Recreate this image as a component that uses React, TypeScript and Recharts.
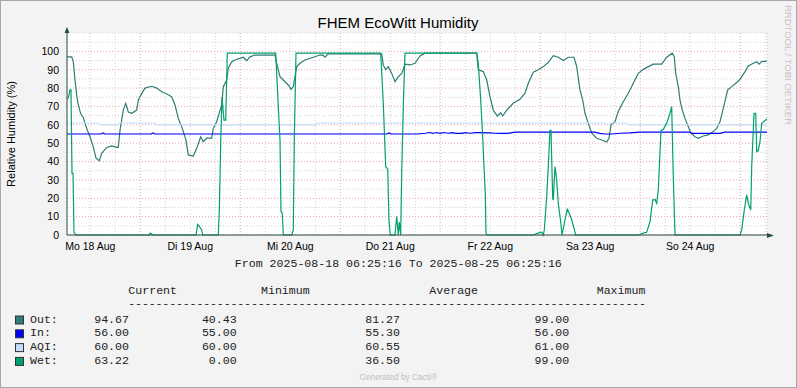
import React from 'react';
import { ComposedChart, Line, XAxis, YAxis, CartesianGrid } from 'recharts';

// x = hours since 2025-08-18 00:00, y = relative humidity (%)
const outSeries: [number, number][] = [
  [6.42, 97], [7.55, 97], [7.93, 94.4], [8.34, 84.4], [8.75, 76], [9.13, 70.8], [9.71, 66], [10.33, 64],
  [11.15, 58], [11.94, 53.5], [12.73, 48], [13.38, 41.8], [14.17, 40.4], [14.75, 44.5], [15.95, 47.7],
  [17.15, 48.5], [18.35, 47.7], [18.73, 47.7], [19.14, 57], [19.93, 68], [20.51, 71.7], [21.13, 67],
  [21.95, 66.3], [23.15, 68], [23.53, 73.5], [24.35, 77], [25.14, 80], [26.75, 81], [27.95, 80], [29.15, 78],
  [30.35, 76.8], [31.55, 75.3], [32.34, 70.8], [33.13, 63.5], [33.95, 59], [34.98, 51.7], [35.53, 43.6],
  [36.73, 43], [37.55, 47.2], [38.51, 53.5], [39.13, 50.8], [39.95, 52.7], [41.15, 52.7], [41.53, 58],
  [42.35, 61.7], [43.55, 70.8], [43.93, 80.8], [44.75, 84.4], [45.13, 90.8], [45.95, 94.4], [47.15, 95.7],
  [47.94, 96.2], [48.73, 96.8], [49.55, 95], [50.34, 97], [51.54, 98], [56.34, 98], [56.75, 93.5],
  [57.54, 86.2], [58.33, 84.4], [59.53, 81.7], [60.18, 79.4], [60.73, 80.8], [61.55, 91.7], [62.34, 93.5],
  [63.54, 95.3], [65.15, 96.5], [67.14, 98], [67.86, 98], [68.34, 96.8], [69.13, 98.6], [81.95, 98.6],
  [82.33, 92.6], [82.91, 90], [83.53, 91.7], [84.35, 88], [85.14, 83.5], [85.93, 86.2], [86.75, 88],
  [87.54, 93], [88.74, 92.6], [89.94, 93.5], [91.14, 97.5], [92.34, 99], [104.75, 99], [105.13, 90],
  [106.33, 89], [107.15, 84.4], [107.94, 75.3], [108.73, 68], [109.69, 64.8], [110.51, 66.6], [110.99, 64.8],
  [111.95, 68], [113.53, 71.7], [115.14, 73.9], [116.34, 77.2], [117.13, 82.6], [118.33, 88.6], [119.53, 90],
  [120.73, 91.7], [121.93, 93.9], [123.13, 97.7], [124.33, 96.8], [125.53, 95], [126.73, 96.8], [128.1, 96.8],
  [128.75, 91.7], [129.54, 79], [130.19, 73.5], [130.74, 66.3], [131.53, 60.8], [132.35, 55.4], [133.55, 52.7],
  [134.75, 51.7], [135.95, 50.6], [136.5, 52.7], [136.98, 60], [137.94, 61.7], [138.73, 67.2], [139.93, 72.6],
  [141.13, 77.2], [142.33, 82.6], [143.53, 88], [144.73, 90.2], [145.93, 91.7], [147.13, 93], [149.15, 93.1],
  [150.35, 96.8], [151.69, 99], [152.17, 97.1], [152.51, 88], [153.13, 80.8], [153.54, 73.5], [154.09, 68],
  [154.74, 63.5], [155.53, 59], [156.18, 55.4], [157.14, 53.5], [157.93, 52.7], [159.13, 53.9], [160.33, 54.5],
  [161.53, 56.3], [162.35, 58], [163.14, 61.7], [163.93, 69], [164.99, 79], [165.95, 80.8], [167.15, 83],
  [167.94, 84.8], [169.14, 89], [169.93, 92], [171.13, 93.5], [171.95, 94.4], [172.5, 93], [173.15, 94.4],
  [174.42, 94.67],
];

const inSeries: [number, number][] = [
  [6.42, 55], [14.6, 55], [15.06, 55.6], [15.5, 55], [26.6, 55], [27.06, 55.6], [27.5, 55], [83.2, 55],
  [83.7, 55.6], [84.2, 55], [90.5, 55], [92.3, 55.4], [93.5, 55.8], [94.3, 55.3], [95, 55.8], [96, 55.3],
  [96.9, 55.8], [97.9, 55.4], [98.8, 55.7], [99.8, 55.3], [101.2, 55.3], [102, 55.7], [103.1, 55.4],
  [104.3, 55.7], [105.5, 55.8], [107.9, 55.6], [109, 55.4], [110.3, 55.3], [112, 55.3], [113.9, 56],
  [133.1, 56], [134.3, 55.3], [135.5, 55], [137.2, 55], [139.1, 55.4], [141.5, 55.6], [143.9, 56],
  [155.9, 56], [156.4, 55.3], [163.1, 55.3], [164.3, 56], [174.42, 56],
];

const aqiSeries: [number, number][] = [
  [6.42, 61], [14.2, 61], [14.5, 60], [18.6, 60], [19, 61], [27.5, 61], [27.9, 60], [66, 60], [66.4, 61],
  [135.4, 61], [135.8, 60.3], [136.6, 60.3], [137, 61], [140.9, 61], [141.3, 60], [174.42, 60],
];

const wetSeries: [number, number][] = [
  [6.42, 74], [6.78, 75], [7.14, 79], [7.38, 79], [7.62, 33.6], [7.86, 33.6], [8.1, 1.3], [8.58, 0],
  [26.1, 0], [26.46, 1], [27.06, 0], [37.38, 0], [37.79, 5.8], [38.1, 5], [38.75, 2.7], [38.99, 0],
  [42.73, 0], [42.97, 12.7], [43.31, 50], [43.62, 75], [44.1, 62.6], [44.51, 62.6], [44.9, 99],
  [56.51, 99], [57.13, 70], [57.54, 51.7], [57.78, 12.7], [58.09, 12], [58.33, 0], [60.35, 0],
  [60.73, 2.7], [60.97, 51.7], [61.38, 99], [81.71, 99], [82.33, 71.7], [82.91, 37.2], [83.39, 36],
  [83.7, 7.3], [84.01, 0], [85.14, 0], [85.55, 10], [85.93, 0], [86.17, 7], [86.51, 0], [86.75, 33.6],
  [87.13, 69.9], [87.54, 99], [104.75, 99], [105.13, 93.5], [105.71, 73.5], [106.19, 53.5], [106.5, 37.2],
  [106.81, 22.7], [106.98, 1], [107.22, 0], [118.33, 0], [119.46, 1], [120.35, 1.5], [120.73, 0],
  [120.97, 2.7], [121.55, 20.9], [121.93, 37.2], [122.34, 57], [122.58, 57], [122.99, 20], [123.13, 19],
  [123.54, 37.2], [123.95, 30], [124.33, 17.3], [124.91, 7.3], [125.22, 0], [125.94, 8.2], [126.49, 14],
  [126.97, 11.8], [127.55, 8.2], [128.1, 3.6], [128.51, 0], [143.53, 0], [144.73, 1], [145.55, 1.5],
  [146.34, 7.3], [146.99, 19], [147.54, 19.3], [147.95, 17.3], [148.33, 24.5], [148.98, 57], [149.53, 57.5],
  [150.35, 60.8], [151.14, 66.3], [151.55, 69.9], [151.93, 31.8], [152.34, 0], [167.94, 0], [168.35, 2.7],
  [168.97, 13.6], [169.55, 21.8], [169.93, 17.3], [170.51, 13.6], [170.75, 37.2], [171.3, 66.3],
  [171.71, 66.3], [171.95, 45.4], [172.33, 46], [172.74, 50.8], [173.15, 60.8], [174.42, 63.22],
];

const dayLabels = ['Mo 18 Aug', 'Di 19 Aug', 'Mi 20 Aug', 'Do 21 Aug', 'Fr 22 Aug', 'Sa 23 Aug', 'So 24 Aug'];
const xTicks = [12, 18, 24, 30, 36, 42, 48, 54, 60, 66, 72, 78, 84, 90, 96, 102, 108, 114, 120, 126, 132,
  138, 144, 150, 156, 162, 168, 174];
const yTicks = [0, 5, 10, 15, 20, 25, 30, 35, 40, 45, 50, 55, 60, 65, 70, 75, 80, 85, 90, 95, 100, 105];

const legendNames = ['Out:', 'In:', 'AQI:', 'Wet:'];
const legendColors = ['#2E7D76', '#0000FF', '#C6DEF7', '#00A070'];
const currentVals = ['94.67', '56.00', '60.00', '63.22'];
const minimumVals = ['40.43', '55.00', '60.00', '0.00'];
const averageVals = ['81.27', '55.30', '60.55', '36.50'];
const maximumVals = ['99.00', '56.00', '61.00', '99.00'];

const START = 6 + 25 / 60 + 16 / 3600;
const END = START + 168;

const SANS = "'Liberation Sans', Arial, sans-serif";
const MONO = "'Liberation Mono', 'Courier New', monospace";
const AXIS = '#2C4D43';

const toPoints = (s: [number, number][]) => s.map(([h, v]) => ({ h, v }));

const XTick = (props: any) => {
  const { x, y, payload } = props;
  const v = payload.value;
  if ((v - 12) % 24 !== 0) return <g />;
  return (
    <text x={x} y={y} dy={8.5} textAnchor="middle" fontFamily={SANS} fontSize={10.5} fill="#000">
      {dayLabels[(v - 12) / 24]}
    </text>
  );
};

const YTick = (props: any) => {
  const { x, y, payload } = props;
  const v = payload.value;
  if (v % 10 !== 0) return <g />;
  return (
    <text x={x} y={y} dy={3.8} textAnchor="end" fontFamily={SANS} fontSize={10.5} fill="#000">
      {v}
    </text>
  );
};

const hGrid = (p: any) => {
  const v = yTicks[p.index];
  const major = v % 10 === 0;
  return (
    <line key={p.key} x1={p.x1} y1={p.y1} x2={p.x2} y2={p.y2}
      stroke={major ? '#E8A6A6' : '#D2D2D2'} strokeWidth={1} strokeDasharray="1 2" />
  );
};

const vGrid = (p: any) => {
  const v = xTicks[p.index];
  const major = v % 24 === 0;
  return (
    <line key={p.key} x1={p.x1} y1={p.y1} x2={p.x2} y2={p.y2}
      stroke={major ? '#E8A6A6' : '#D2D2D2'} strokeWidth={1} strokeDasharray="1 2" />
  );
};

const rowBase = [322.5, 336.3, 350.1, 363.9];

export default function App() {
  return (
    <div style={{ position: 'relative', width: 797, height: 388, background: '#F3F3F3' }}>
      <style>{'body{margin:0}'}</style>
      <ComposedChart width={797} height={388} margin={{ top: 33, right: 30, left: 0, bottom: 133 }}>
        <CartesianGrid fill="#FFFFFF" horizontal={hGrid} vertical={vGrid} />
        <XAxis type="number" dataKey="h" domain={[START, END]} ticks={xTicks} interval={0}
          allowDataOverflow tick={XTick} tickLine={false} tickSize={0} tickMargin={6} height={20}
          axisLine={{ stroke: AXIS }} />
        <YAxis type="number" domain={[0, 110]} ticks={yTicks} interval={0} width={67}
          tick={YTick} tickLine={false} tickSize={0} tickMargin={8} axisLine={{ stroke: AXIS }} />
        <Line data={toPoints(outSeries)} dataKey="v" type="linear" stroke="#2E7D76" strokeWidth={1.2}
          dot={false} isAnimationActive={false} />
        <Line data={toPoints(inSeries)} dataKey="v" type="linear" stroke="#0000FF" strokeWidth={1.2}
          dot={false} isAnimationActive={false} />
        <Line data={toPoints(aqiSeries)} dataKey="v" type="linear" stroke="#C6DEF7" strokeWidth={1.2}
          dot={false} isAnimationActive={false} />
        <Line data={toPoints(wetSeries)} dataKey="v" type="linear" stroke="#00A070" strokeWidth={1.2}
          dot={false} isAnimationActive={false} />
      </ComposedChart>
      <svg width={797} height={388} style={{ position: 'absolute', left: 0, top: 0, pointerEvents: 'none' }}>
        <rect x={0.5} y={0.5} width={796} height={387} fill="none" stroke="#A8A8A8" />
        <text x={398} y={27.5} textAnchor="middle" fontFamily={SANS} fontSize={15} fill="#000">
          FHEM EcoWitt Humidity
        </text>
        <text x={14.5} y={134} transform="rotate(-90 14.5 134)" textAnchor="middle" fontFamily={SANS}
          fontSize={11} fill="#000">
          Relative Humidity (%)
        </text>
        <text x={784.5} y={5} transform="rotate(90 784.5 5)" fontFamily={SANS} fontSize={9.5} fill="#C4C4C4">
          RRDTOOL / TOBI OETIKER
        </text>
        {/* axis extensions and arrows */}
        <line x1={67} y1={33} x2={67} y2={29} stroke={AXIS} />
        <polygon points="64.5,33 69.5,33 67,27" fill={AXIS} />
        <line x1={767} y1={235.5} x2={771} y2={235.5} stroke={AXIS} />
        <polygon points="767,233 767,238 774,235.5" fill={AXIS} />

        <text x={398.3} y={267} textAnchor="middle" fontFamily={MONO} fontSize={11.6} fill="#222">
          From 2025-08-18 06:25:16 To 2025-08-25 06:25:16
        </text>
        <g fontFamily={MONO} fontSize={11.6} fill="#222">
          <text x={128.3} y={294}>Current</text>
          <text x={261} y={294}>Minimum</text>
          <text x={429.3} y={294}>Average</text>
          <text x={596.7} y={294}>Maximum</text>
          <text x={128.3} y={306.5} textLength={517.7} lengthAdjust="spacing">
            {'-'.repeat(76)}
          </text>
          {legendNames.map((n, i) => (
            <g key={n}>
              <rect x={15.5} y={rowBase[i] - 6.5} width={8} height={8} fill={legendColors[i]} stroke="#333" />
              <text x={30} y={rowBase[i]}>{n}</text>
              <text x={129} y={rowBase[i]} textAnchor="end">{currentVals[i]}</text>
              <text x={236.7} y={rowBase[i]} textAnchor="end">{minimumVals[i]}</text>
              <text x={400} y={rowBase[i]} textAnchor="end">{averageVals[i]}</text>
              <text x={569.3} y={rowBase[i]} textAnchor="end">{maximumVals[i]}</text>
            </g>
          ))}
        </g>
        <text x={398.3} y={380} textAnchor="middle" fontFamily={SANS} fontSize={8.3} fill="#C0C0C0">
          Generated by Cacti®
        </text>
      </svg>
    </div>
  );
}
